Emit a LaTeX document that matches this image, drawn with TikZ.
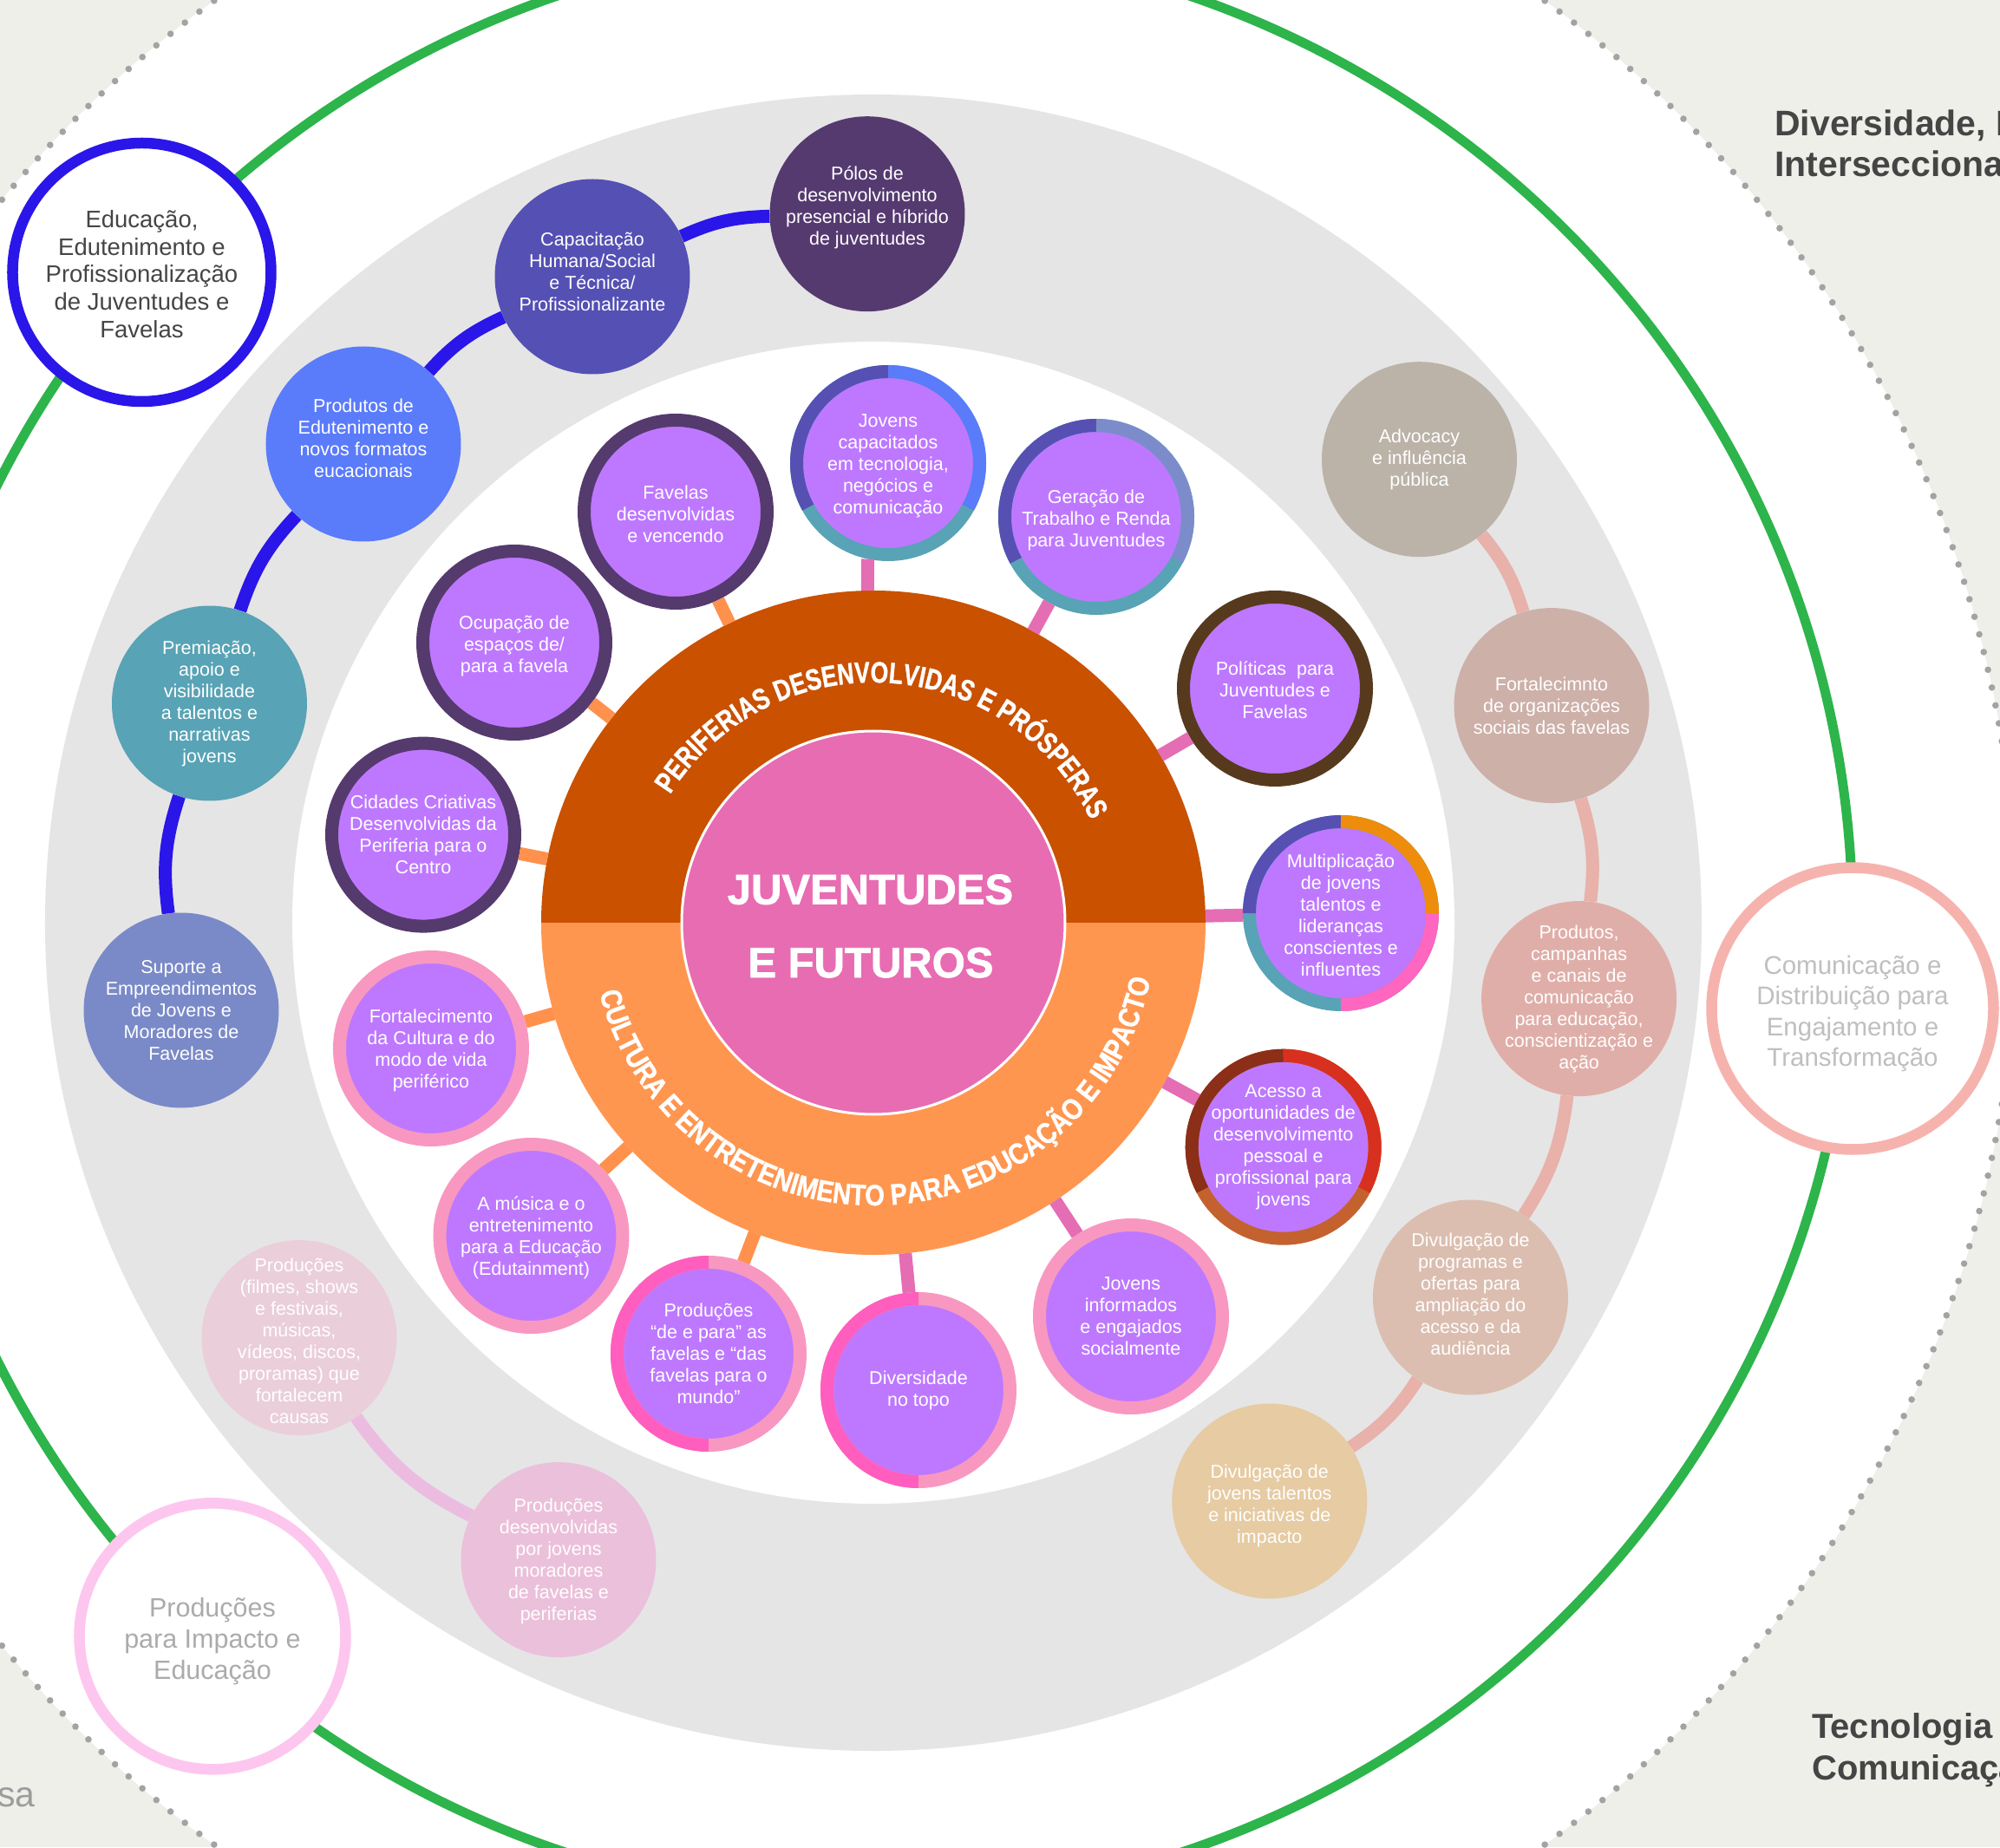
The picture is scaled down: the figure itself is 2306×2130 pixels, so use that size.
\documentclass[tikz,border=0pt]{standalone}
\usepackage{fontspec}
\setmainfont{Liberation Sans}
\newfontfamily\ringfontA{Liberation Sans}[FakeStretch=0.78, FakeBold=1]
\newfontfamily\ringfontB{Liberation Sans}[FakeStretch=0.85, FakeBold=1]
\newfontfamily\centfam{Liberation Sans}[FakeBold=1.5]
\usetikzlibrary{decorations.text}
\definecolor{bgout}{HTML}{EFEFEA}
\definecolor{dotgray}{HTML}{A3A3A3}
\definecolor{greenc}{HTML}{2DB44B}
\definecolor{ringgray}{HTML}{E5E5E5}
\definecolor{orangeD}{HTML}{C95100}
\definecolor{orangeL}{HTML}{FF9650}
\definecolor{pinkC}{HTML}{E86CB2}
\definecolor{purp}{HTML}{BE78FF}
\definecolor{darkpurp}{HTML}{553A6E}
\definecolor{brownR}{HTML}{573A1E}
\definecolor{lpink}{HTML}{F898C0}
\definecolor{hpink}{HTML}{FF5EBE}
\definecolor{cDblue}{HTML}{5650B3}
\definecolor{cBblue}{HTML}{5A7BFA}
\definecolor{cTeal}{HTML}{58A3B5}
\definecolor{cSlate}{HTML}{7C8CCB}
\definecolor{cOrng}{HTML}{EE8D0B}
\definecolor{cMpink}{HTML}{FF66C0}
\definecolor{cDred}{HTML}{8B2F18}
\definecolor{cRed}{HTML}{D8301E}
\definecolor{cBrn}{HTML}{C4622F}
\definecolor{stubor}{HTML}{FF914D}
\definecolor{stubpk}{HTML}{E46DB4}
\definecolor{cPol}{HTML}{553A70}
\definecolor{cCap}{HTML}{5550B4}
\definecolor{cProd}{HTML}{5A7BFA}
\definecolor{cPrem}{HTML}{58A3B5}
\definecolor{cSup}{HTML}{7A8AC8}
\definecolor{cAdv}{HTML}{BBB2A8}
\definecolor{cFort}{HTML}{CDB0A8}
\definecolor{cPcam}{HTML}{E0AEA8}
\definecolor{cDprog}{HTML}{DBBEB0}
\definecolor{cDjov}{HTML}{E6CBA3}
\definecolor{cPfil}{HTML}{EACEDA}
\definecolor{cPdes}{HTML}{EBC0DA}
\definecolor{blueL}{HTML}{2A16E8}
\definecolor{linkR}{HTML}{E8B1AA}
\definecolor{linkP}{HTML}{EBBCE0}
\definecolor{comB}{HTML}{F6B3AE}
\definecolor{impB}{HTML}{FDC6EF}
\definecolor{darktxt}{HTML}{454545}
\definecolor{comtxt}{HTML}{BFBFBF}
\definecolor{imptxt}{HTML}{ABABAB}
\definecolor{esatxt}{HTML}{9C9C9C}
\newcommand\satfont{\fontsize{21.5}{25}\selectfont}
\newcommand\edufont{\fontsize{27.5}{31.7}\selectfont}
\newcommand\comfont{\fontsize{29.5}{35.6}\selectfont}
\newcommand\impfont{\fontsize{30.5}{36}\selectfont}
\newcommand\cornfont{\bfseries\fontsize{41}{47}\selectfont}
\newcommand\cornfontb{\bfseries\fontsize{40}{47}\selectfont}
\newcommand\esafont{\fontsize{41}{47}\selectfont}
\newcommand\ringstyleA{\ringfontA\bfseries\fontsize{34}{38}\selectfont}
\newcommand\ringstyleB{\ringfontB\bfseries\fontsize{34}{38}\selectfont}
\newcommand\centfont{\centfam\bfseries\fontsize{49}{56}\selectfont}
\tikzset{
  sat/.style={circle, minimum size=211pt, inner sep=0pt, line width=15pt, fill=purp, draw=#1},
  gnode/.style={circle, minimum size=225pt, inner sep=0pt, fill=#1},
  bigc/.style 2 args={circle, minimum size=#2, inner sep=0pt, line width=12.5pt, draw=#1, fill=white},
  txt/.style={align=center, text=white, font=\satfont, inner sep=0pt},
  seg/.style={line width=15pt, draw=#1},
  stubO/.style={line width=15pt, draw=stubor},
  stubP/.style={line width=15pt, draw=stubpk},
  link/.style={line width=15pt, draw=#1},
}
\begin{document}
\begin{tikzpicture}[x=1pt,y=1pt]
\useasboundingbox (-1007,-1066) rectangle (1299,1064);
\clip (-1007,-1066) rectangle (1299,1064);
% backgrounds
\fill[bgout] (-1007,-1066) rectangle (1299,1064);
\fill[white] (7,0) circle[radius=1311];
\foreach \k in {0,...,391} {
  \fill[dotgray] (7,0) ++(\k*0.918367:1311) circle[radius=3.8];
}
\draw[greenc, line width=11pt] (0,0) circle[radius=1129];
\fill[ringgray] (0,0) circle[radius=955];
\fill[white] (0,0) circle[radius=670];
% core
\fill[orangeD] (-383,0) arc[start angle=180, end angle=0, radius=383] -- cycle;
\fill[orangeL] (383,0) arc[start angle=0, end angle=-180, radius=383] -- cycle;
\draw[white, line width=3pt, fill=pinkC] (0,0) circle[radius=221];
\node[circle, minimum size=766pt, inner sep=0pt, outer sep=0pt] (core) at (0,0) {};
\path[decorate, decoration={text along path, text={|\ringstyleA|PERIFERIAS DESENVOLVIDAS E PRÓSPERAS}, text align=center, text color=white}]
  (0,0) ++(174.5:277) arc[start angle=174.5, end angle=-1.5, radius=277];
\path[decorate, decoration={text along path, text={|\ringstyleB|CULTURA E ENTRETENIMENTO PARA EDUCAÇÃO E IMPACTO}, text align=center, text color=white}]
  (0,0) ++(183.4:326) arc[start angle=183.4, end angle=359.4, radius=326];
\node[anchor=base, text=white, font=\centfont, inner sep=0pt] (t1) at (-3.5,21.4) {JUVENTUDES};
\node[anchor=base, text=white, font=\centfont, inner sep=0pt] (t2) at (-3,-63) {E FUTUROS};
% inner satellites
\node[sat=darkpurp] (cid) at (-519,101.4) {};
\node[sat=darkpurp] (ocu) at (-414,323) {};
\node[sat=darkpurp] (fav) at (-228,474) {};
\node[sat=cTeal] (jcap) at (17,530) {};
\node[sat=cTeal] (ger) at (257,468) {};
\node[sat=brownR] (pol2) at (463,270) {};
\node[sat=cTeal] (mul) at (539,11) {};
\node[sat=cBrn] (ace) at (472.7,-258.7) {};
\node[sat=lpink] (jinf) at (297,-454) {};
\node[sat=lpink] (div) at (52,-539) {};
\node[sat=lpink] (pdp) at (-190,-497) {};
\node[sat=lpink] (mus) at (-394.5,-361) {};
\node[sat=lpink] (fcul) at (-510,-145) {};
% stubs
\draw[stubO] (core) -- (cid);
\draw[stubO] (core) -- (ocu);
\draw[stubO] (core) -- (fav);
\draw[stubP] (core.91.3) -- (jcap.258);
\draw[stubP] (core) -- (ger);
\draw[stubP] (core) -- (pol2);
\draw[stubP] (core) -- (mul);
\draw[stubP] (core) -- (ace);
\draw[stubP] (core) -- (jinf);
\draw[stubP] (core) -- (div);
\draw[stubO] (core) -- (pdp);
\draw[stubO] (core) -- (mus);
\draw[stubO] (core) -- (fcul);
% ring segments
\draw[seg=cDblue] (jcap.center) ++(90:105.5) arc[start angle=90, end angle=209, radius=105.5];
\draw[seg=cBblue] (jcap.center) ++(-29:105.5) arc[start angle=-29, end angle=90, radius=105.5];
\draw[seg=cDblue] (ger.center) ++(90:105.5) arc[start angle=90, end angle=208.5, radius=105.5];
\draw[seg=cSlate] (ger.center) ++(-28:105.5) arc[start angle=-28, end angle=90, radius=105.5];
\draw[seg=cDblue] (mul.center) ++(90:105.5) arc[start angle=90, end angle=180, radius=105.5];
\draw[seg=cOrng] (mul.center) ++(0:105.5) arc[start angle=0, end angle=90, radius=105.5];
\draw[seg=cMpink] (mul.center) ++(-90:105.5) arc[start angle=-90, end angle=0, radius=105.5];
\draw[seg=cDred] (ace.center) ++(90:105.5) arc[start angle=90, end angle=208, radius=105.5];
\draw[seg=cRed] (ace.center) ++(-28:105.5) arc[start angle=-28, end angle=90, radius=105.5];
\draw[seg=hpink] (pdp.center) ++(90:105.5) arc[start angle=90, end angle=270, radius=105.5];
\draw[seg=hpink] (div.center) ++(90:105.5) arc[start angle=90, end angle=270, radius=105.5];
% satellite texts
\node[txt] (cid-t) at (cid) {Cidades Criativas\\Desenvolvidas da\\Periferia para o\\Centro};
\node[txt, yshift=-4pt] (ocu-t) at (ocu) {Ocupação de\\espaços de/\\para a favela};
\node[txt, yshift=-3pt] (fav-t) at (fav) {Favelas\\desenvolvidas\\e vencendo};
\node[txt, yshift=-3pt] (jcap-t) at (jcap) {Jovens\\capacitados\\em tecnologia,\\negócios e\\comunicação};
\node[txt, yshift=-4pt] (ger-t) at (ger) {Geração de\\Trabalho e Renda\\para Juventudes};
\node[txt, yshift=-2pt] (pol2-t) at (pol2) {Políticas\ \ para\\Juventudes e\\Favelas};
\node[txt, yshift=-2pt] (mul-t) at (mul) {Multiplicação\\de jovens\\talentos e\\lideranças\\conscientes e\\influentes};
\node[txt] (ace-t) at (ace) {Acesso a\\oportunidades de\\desenvolvimento\\pessoal e\\profissional para\\jovens};
\node[txt] (jinf-t) at (jinf) {Jovens\\informados\\e engajados\\socialmente};
\node[txt] (div-t) at (div) {Diversidade\\no topo};
\node[txt] (pdp-t) at (pdp) {Produções\\“de e para” as\\favelas e “das\\favelas para o\\mundo”};
\node[txt, yshift=-2pt] (mus-t) at (mus) {A música e o\\entretenimento\\para a Educação\\(Edutainment)};
\node[txt, yshift=-2pt] (fcul-t) at (fcul) {Fortalecimento\\da Cultura e do\\modo de vida\\periférico};
% gray ring nodes
\node[gnode=cPol] (pol) at (-7,817.3) {};
\node[gnode=cCap] (cap) at (-324,745) {};
\node[gnode=cProd] (prod) at (-588,552) {};
\node[gnode=cPrem] (prem) at (-765.5,253) {};
\node[gnode=cSup] (sup) at (-798,-101) {};
\node[gnode=cAdv] (adv) at (629.5,534.3) {};
\node[gnode=cFort] (fort) at (782,250.4) {};
\node[gnode=cPcam] (pcam) at (813.6,-87.6) {};
\node[gnode=cDprog] (dprog) at (688.5,-432) {};
\node[gnode=cDjov] (djov) at (456.8,-667) {};
\node[gnode=cPfil] (pfil) at (-662,-478.6) {};
\node[gnode=cPdes] (pdes) at (-363,-734.6) {};
% connectors in ring
\draw[link=blueL] (sup) to[bend left=12.8] (prem);
\draw[link=blueL] (prem) to[bend left=12.4] (prod);
\draw[link=blueL] (prod) to[bend left=11.7] (cap);
\draw[link=blueL] (cap) to[bend left=11.5] (pol);
\draw[link=linkR] (adv) to[bend left=11.3] (fort);
\draw[link=linkR] (fort) to[bend left=12] (pcam);
\draw[link=linkR] (pcam) to[bend left=13] (dprog);
\draw[link=linkR] (dprog) to[bend left=11.75] (djov);
\draw[link=linkP] (pfil) to[bend right=13.9] (pdes);
% ring texts
\node[txt, yshift=7pt] (pol-t) at (pol) {Pólos de\\desenvolvimento\\presencial e híbrido\\de juventudes};
\node[txt, yshift=6pt] (cap-t) at (cap) {Capacitação\\Humana/Social\\e Técnica/\\Profissionalizante};
\node[txt, yshift=7pt] (prod-t) at (prod) {Produtos de\\Edutenimento e\\novos formatos\\eucacionais};
\node[txt] (prem-t) at (prem) {Premiação,\\apoio e\\visibilidade\\a talentos e\\narrativas\\jovens};
\node[txt] (sup-t) at (sup) {Suporte a\\Empreendimentos\\de Jovens e\\Moradores de\\Favelas};
\node[txt] (adv-t) at (adv) {Advocacy\\e influência\\pública};
\node[txt] (fort-t) at (fort) {Fortalecimnto\\de organizações\\sociais das favelas};
\node[txt] (pcam-t) at (pcam) {Produtos,\\campanhas\\e canais de\\comunicação\\para educação,\\conscientização e\\ação};
\node[txt, yshift=4pt] (dprog-t) at (dprog) {Divulgação de\\programas e\\ofertas para\\ampliação do\\acesso e da\\audiência};
\node[txt, yshift=-5pt] (djov-t) at (djov) {Divulgação de\\jovens talentos\\e iniciativas de\\impacto};
\node[txt, yshift=-4pt] (pfil-t) at (pfil) {Produções\\(filmes, shows\\e festivais,\\músicas,\\vídeos, discos,\\proramas) que\\fortalecem\\causas};
\node[txt, yshift=-2pt] (pdes-t) at (pdes) {Produções\\desenvolvidas\\por jovens\\moradores\\de favelas e\\periferias};
% big circles
\node[bigc={blueL}{298pt}] (edu) at (-843.5,750) {};
\node[bigc={comB}{325pt}] (com) at (1129,-99) {};
\node[bigc={impB}{307pt}] (pimp) at (-762,-822.8) {};
\node[txt, text=darktxt, font=\edufont, yshift=-2pt] (edu-t) at (edu) {Educação,\\Edutenimento e\\Profissionalização\\de Juventudes e\\Favelas};
\node[txt, text=comtxt, font=\comfont, yshift=-6pt] (com-t) at (com) {Comunicação e\\Distribuição para\\Engajamento e\\Transformação};
\node[txt, text=imptxt, font=\impfont, yshift=-6pt] (pimp-t) at (pimp) {Produções\\para Impacto e\\Educação};
% corner texts
\node[anchor=base west, text=darktxt, font=\cornfont, inner sep=0pt] (dv1) at (1039,907) {Diversidade, Inclusão e};
\node[anchor=base west, text=darktxt, font=\cornfont, inner sep=0pt] (dv2) at (1039,860) {Interseccionalidade};
\node[anchor=base west, text=darktxt, font=\cornfontb, inner sep=0pt] (tc1) at (1082,-940) {Tecnologia e};
\node[anchor=base west, text=darktxt, font=\cornfontb, inner sep=0pt] (tc2) at (1082,-988) {Comunicação};
\node[anchor=base east, text=esatxt, font=\esafont, inner sep=0pt] (esa) at (-966,-1019) {Empresa};
\end{tikzpicture}
\end{document}
